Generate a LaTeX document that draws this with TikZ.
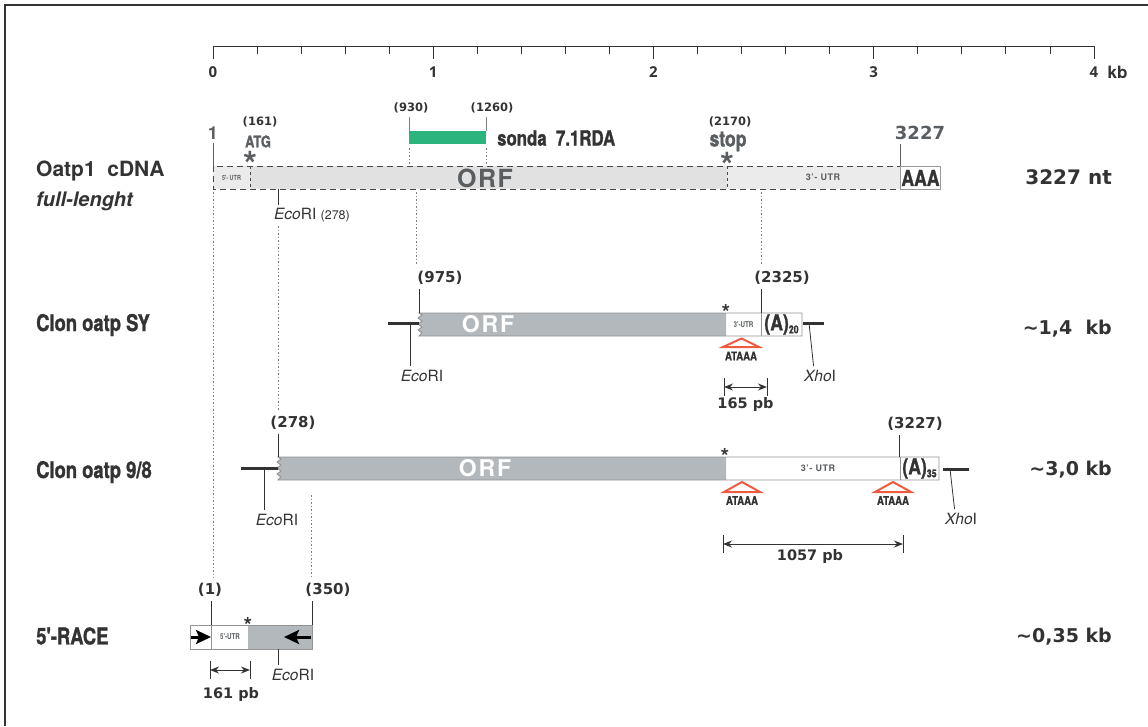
\documentclass[tikz,border=0pt]{standalone}
\usepackage{fontspec}
\setmainfont{TeX Gyre Heros}
\newfontfamily\condfont{TeX Gyre Heros}[FakeStretch=0.78]
\newfontfamily\rowfont{TeX Gyre Heros}[FakeStretch=0.8, BoldFeatures={FakeBold=1.2}]
\newfontfamily\widefont{DejaVu Sans}
\newfontfamily\axisfont{Open Sans}
\usepackage{tikz}
\usetikzlibrary{arrows.meta,positioning,calc}
\definecolor{inkgray}{HTML}{333333}
\definecolor{labgray}{HTML}{5A5E61}
\definecolor{orfgray}{HTML}{B3B8BC}
\definecolor{cdnagray}{HTML}{E1E1E1}
\definecolor{utrgray}{HTML}{EBEBEB}
\definecolor{probegreen}{HTML}{2BB47C}
\definecolor{polyared}{HTML}{EE5B3E}
\newcommand{\fsz}[1]{\fontsize{#1}{#1}\selectfont}

\begin{document}
\begin{tikzpicture}[
	x=1pt, y=-1pt,
	every node/.style={inner sep=0pt, text=inkgray},
	rowname/.style={anchor=west, font=\rowfont\bfseries\fsz{23}},
	sizelbl/.style={anchor=east, font=\widefont\bfseries\fsz{19}},
	poslbl/.style={font=\widefont\bfseries\fsz{15}},
	smallpos/.style={font=\widefont\bfseries\fsz{11.5}},
	toplbl/.style={font=\rowfont\bfseries\fsz{16}, text=labgray},
	ticklbl/.style={font=\axisfont\bfseries\fsz{15}},
	sitelbl/.style={font=\fsz{15.5}},
	utrlbl/.style={font=\condfont\bfseries\fsz{8}, text=labgray},
	motif/.style={font=\rowfont\bfseries\fsz{12}},
	bigstar/.style={anchor=north, font=\bfseries\fsz{36}, text=labgray},
	smallstar/.style={anchor=north, font=\bfseries\fsz{22}},
	pinline/.style={draw=inkgray, line width=.8pt},
	stub/.style={draw=inkgray, line width=3pt},
	guide/.style={draw=gray, line width=.8pt, dash pattern=on 1.5pt off 2pt},
	barline/.style={draw=gray!85, line width=.9pt},
	polya/.style={draw=polyared, line width=2pt},
	dimarrow/.style={draw=inkgray, line width=1pt, {Stealth[length=9pt,width=7pt]}-{Stealth[length=9pt,width=7pt]}},
	primer/.style={draw=black, line width=3pt, -{Stealth[length=15pt,width=14pt,inset=3pt]}},
	]
	
	\useasboundingbox (0,0) rectangle (1148,726);
	\draw[inkgray, line width=2.5pt] (5,726) -- (5,5) -- (1148,5);
	
	%------------------------------
	% scale in kb
	%------------------------------
	\coordinate (k0) at (213,46);
	\coordinate (k4) at (1094,46);
	\draw[inkgray, line width=.9pt] (k0) -- (k4);
	\foreach \t in {1,...,19}{
		\draw[inkgray, line width=.9pt] ($(k0)!\t/20!(k4)$) -- ++(0,8);
	}
	\foreach \k in {0,...,4}{
		\draw[inkgray, line width=.9pt] ($(k0)!\k/4!(k4)$) -- ++(0,13);
		\node[ticklbl] (kb\k) at ($(k0)!\k/4!(k4)+(0,26)$) {\k};
	}
	\node[ticklbl, font=\bfseries\fsz{17}, right=9pt of kb4] (kbunit) {kb};
	
	%------------------------------
	% Oatp1 cDNA full-lenght
	%------------------------------
	\node[anchor=west, font=\bfseries\fsz{21}] (cdna) at (36,171) {Oatp1\ \ cDNA};
	\node[anchor=west, font=\bfseries\itshape\fsz{20}] (full) at (36,201) {full-lenght};
	
	\fill[utrgray] (213,166) rectangle (900,189);
	\fill[cdnagray] (250,166) rectangle (727,189);
	\draw[inkgray!90, line width=.9pt, dash pattern=on 6pt off 4pt] (213,166) rectangle (900,189);
	\draw[inkgray!90, line width=.8pt, dash pattern=on 3pt off 3pt] (250,166) -- (250,189) (727,166) -- (727,189);
	\node[draw=gray!80, line width=.9pt, minimum width=40pt, minimum height=23pt, anchor=north west, font=\rowfont\bfseries\fsz{22}] (aaa) at (900,166) {AAA};
	
	\node[utrlbl, font=\condfont\bfseries\fsz{7}] (utr5) at (231.5,177.5) {5'- UTR};
	\node[font=\bfseries\fsz{25}\addfontfeature{LetterSpace=6}, text=labgray] (orf0) at (485,178) {ORF};
	\node[utrlbl, font=\bfseries\fsz{9}\addfontfeature{LetterSpace=6}] (utr3) at (823,177.5) {3'- UTR};
	\node[sizelbl, font=\widefont\bfseries\fsz{20}] (nt) at (1112,177) {3227 nt};
	
	% marks above the cDNA
	\coordinate (c1) at (213,166);
	\coordinate (c3227) at (900,166);
	\node[toplbl, font=\bfseries\fsz{18}] (n1) at (213,133.5) {1};
	\node[smallpos] (n161) at (260,122) {(161)};
	\node[toplbl] (atg) at (258,141.5) {ATG};
	\node[bigstar] (atgstar) at (250,151) {*};
	\node[smallpos] (n2170) at (730,122) {(2170)};
	\node[toplbl, font=\rowfont\bfseries\fsz{22}] (stop) at (728,141.5) {stop};
	\node[bigstar] (stopstar) at (727,152) {*};
	\node[toplbl, font=\widefont\bfseries\fsz{18}] (n3227) at (920,133) {3227};
	\draw[pinline, draw=labgray, shorten >=3pt] (c1) -- (c1 |- n1.south);
	\draw[pinline, draw=labgray, shorten >=4pt] (c3227) -- (c3227 |- n3227.south);
	
	% probe
	\coordinate (p930) at (409,131);
	\coordinate (p1260) at (486,131);
	\fill[probegreen] (p930) rectangle (486,144);
	\node[smallpos] (n930) at (411,108) {(930)};
	\node[smallpos] (n1260) at (492,108) {(1260)};
	\draw[pinline, draw=gray, shorten >=4pt] (p930) -- (p930 |- n930.south);
	\draw[pinline, draw=gray, shorten >=4pt] (p1260) -- (p1260 |- n1260.south);
	\node[anchor=west, font=\rowfont\bfseries\fsz{21}] (sonda) at (497,138) {sonda\ \ 7.1RDA};
	\draw[guide] (409,148) -- (409,164) (486,148) -- (486,164);
	
	% EcoRI site
	\coordinate (eco0) at (278,189);
	\node[sitelbl] (eco0lbl) at (312,215) {\textit{Eco}RI {\fsz{12.5}(278)}};
	\draw[pinline, shorten >=3pt] (eco0) -- (eco0 |- eco0lbl.north);
	
	%------------------------------
	% Clon oatp SY
	%------------------------------
	\node[rowname] (sy) at (36,325) {Clon oatp SY};
	\fill[white] (726,313) rectangle (802,336);
	\fill[orfgray] (419,313) -- (726,313) -- (726,336) -- (419,336) -- ++(3,-3) -- ++(-4,-3) -- ++(4,-3) -- ++(-4,-3) -- ++(4,-3) -- ++(-4,-3) -- ++(4,-3) -- cycle;
	\draw[barline] (419,313) -- (802,313) -- (802,336) -- (419,336) -- ++(3,-3) -- ++(-4,-3) -- ++(4,-3) -- ++(-4,-3) -- ++(4,-3) -- ++(-4,-3) -- ++(4,-3) -- cycle;
	\draw[barline] (761,313) -- (761,336);
	\node[font=\bfseries\fsz{23}\addfontfeature{LetterSpace=8}, text=white] (orf1) at (488,324.5) {ORF};
	\node[utrlbl] (utr1) at (743.5,324.5) {3'-UTR};
	\node[font=\rowfont\bfseries\fsz{22}] (a20) at (781.5,324.5) {(A)\raisebox{-3pt}{\fsz{11}20}};
	\node[sizelbl] (s14) at (1112,329) {\textasciitilde1,4\ \ kb};
	
	\coordinate (sy975) at (419,313);
	\coordinate (sy2325) at (761,313);
	\node[poslbl] (n975) at (440,278) {(975)};
	\node[poslbl] (n2325) at (782,278) {(2325)};
	\draw[pinline, shorten >=4pt] (sy975) -- (sy975 |- n975.south);
	\draw[pinline, shorten >=4pt] (sy2325) -- (sy2325 |- n2325.south);
	\node[smallstar] (systar) at (726,304) {*};
	
	% vector ends
	\coordinate (syeco) at (410,323);
	\coordinate (syxho) at (809,323);
	\draw[stub] (388,323) -- (419,323);
	\draw[stub] (803,323) -- (824,323);
	\node[sitelbl] (syecolbl) at (422,376) {\textit{Eco}RI};
	\node[sitelbl] (syxholbl) at (820,376) {\textit{Xho}I};
	\draw[pinline, shorten >=4pt] (syeco) -- (syeco |- syecolbl.north);
	\draw[pinline, shorten >=4pt] (syxho) -- ([xshift=-6pt]syxholbl.north);
	
	% polyadenylation signal
	\draw[polya] (723,347) -- (741.5,338.5) -- (759,347) -- cycle;
	\node[motif] (sypa) at (741,356) {ATAAA};
	\coordinate (d165a) at (724,387);
	\coordinate (d165b) at (767,387);
	\draw[pinline] (724,378) -- (724,396) (767,378) -- (767,396);
	\draw[dimarrow] (d165a) -- (d165b);
	\node[poslbl, font=\widefont\bfseries\fsz{14.5}] (d165) at (745.5,404) {165 pb};
	
	%------------------------------
	% Clon oatp 9/8
	%------------------------------
	\node[rowname] (c98) at (36,472) {Clon oatp 9/8};
	\fill[white] (726,457) rectangle (939,480);
	\fill[orfgray] (278,457) -- (726,457) -- (726,480) -- (278,480) -- ++(3,-3) -- ++(-4,-3) -- ++(4,-3) -- ++(-4,-3) -- ++(4,-3) -- ++(-4,-3) -- ++(4,-3) -- cycle;
	\draw[barline] (278,457) -- (939,457) -- (939,480) -- (278,480) -- ++(3,-3) -- ++(-4,-3) -- ++(4,-3) -- ++(-4,-3) -- ++(4,-3) -- ++(-4,-3) -- ++(4,-3) -- cycle;
	\draw[barline] (900,457) -- (900,480);
	\node[font=\bfseries\fsz{23}\addfontfeature{LetterSpace=8}, text=white] (orf2) at (485,468.5) {ORF};
	\node[utrlbl, font=\bfseries\fsz{9}\addfontfeature{LetterSpace=6}] (utr2) at (818,468.5) {3'- UTR};
	\node[font=\rowfont\bfseries\fsz{22}] (a35) at (919.5,468.5) {(A)\raisebox{-3pt}{\fsz{11}35}};
	\node[sizelbl] (s30) at (1112,470) {\textasciitilde3,0 kb};
	
	\coordinate (c278) at (278,457);
	\coordinate (c3227b) at (899,457);
	\node[poslbl] (n278) at (293,423) {(278)};
	\node[poslbl] (n3227b) at (915,424) {(3227)};
	\draw[pinline, shorten >=4pt] (c278) -- (c278 |- n278.south);
	\draw[pinline, shorten >=4pt] (c3227b) -- (c3227b |- n3227b.south);
	\node[smallstar] (c98star) at (725,448) {*};
	
	% vector ends
	\coordinate (c98eco) at (264,468);
	\coordinate (c98xho) at (950,469);
	\draw[stub] (241,468) -- (278,468);
	\draw[stub] (943,469) -- (969,469);
	\node[sitelbl] (c98ecolbl) at (277,520) {\textit{Eco}RI};
	\node[sitelbl] (c98xholbl) at (961,519) {\textit{Xho}I};
	\draw[pinline, shorten >=4pt] (c98eco) -- (c98eco |- c98ecolbl.north);
	\draw[pinline, shorten >=4pt] (c98xho) -- ([xshift=-6pt]c98xholbl.north);
	
	% polyadenylation signals
	\foreach \px/\nm in {742/pa1, 893/pa2}{
		\draw[polya] (\px-18,492) -- (\px,482) -- (\px+18,492) -- cycle;
		\node[motif] (\nm) at (\px,500.5) {ATAAA};
	}
	\coordinate (d1057a) at (723,544);
	\coordinate (d1057b) at (903,544);
	\draw[pinline] (723,535) -- (723,553) (903,535) -- (903,553);
	\draw[dimarrow] (d1057a) -- (d1057b);
	\node[poslbl, font=\widefont\bfseries\fsz{14.5}] (d1057) at (810,556) {1057 pb};
	
	%------------------------------
	% 5'-RACE
	%------------------------------
	\node[rowname] (race) at (36,636) {5'-RACE};
	\fill[orfgray] (248,625) rectangle (312,649);
	\draw[barline] (190,625) rectangle (312,649);
	\draw[barline] (211,625) -- (211,649);
	\node[utrlbl] (utr4) at (230,637) {5'-UTR};
	\coordinate (fw0) at (191,637);
	\coordinate (fw1) at (211,637);
	\coordinate (rv0) at (311,637);
	\coordinate (rv1) at (284,637);
	\draw[primer] (fw0) -- (fw1);
	\draw[primer] (rv0) -- (rv1);
	\node[sizelbl] (s035) at (1112,637) {\textasciitilde0,35 kb};
	
	\coordinate (r1) at (211,625);
	\coordinate (r350) at (312,625);
	\node[poslbl] (n1r) at (210,590) {(1)};
	\node[poslbl] (n350) at (328,590) {(350)};
	\draw[pinline, shorten >=4pt] (r1) -- (r1 |- n1r.south);
	\draw[pinline, shorten >=4pt] (r350) -- (r350 |- n350.south);
	\node[smallstar] (racestar) at (248,617) {*};
	
	\coordinate (raceeco) at (278,649);
	\node[sitelbl] (raceecolbl) at (293,675) {\textit{Eco}RI};
	\draw[pinline, shorten >=4pt] (raceeco) -- (raceeco |- raceecolbl.north);
	
	\coordinate (d161a) at (210,670);
	\coordinate (d161b) at (250,670);
	\draw[pinline] (210,661) -- (210,679) (250,661) -- (250,679);
	\draw[dimarrow] (d161a) -- (d161b);
	\node[poslbl, font=\widefont\bfseries\fsz{14.5}] (d161) at (231,694) {161 pb};
	
	%------------------------------
	% guides between the maps
	%------------------------------
	\coordinate (g1) at (213,192);
	\coordinate (g278) at (278,226);
	\coordinate (g975) at (416,192);
	\coordinate (g2325) at (761,192);
	\coordinate (g350) at (311,495);
	\draw[guide, shorten >=6pt] (g1) -- (g1 |- n1r.north);
	\draw[guide, shorten >=6pt] (g278) -- (g278 |- n278.north);
	\draw[guide, shorten >=6pt] (g975) -- (g975 |- n975.north);
	\draw[guide, shorten >=6pt] (g2325) -- (g2325 |- n2325.north);
	\draw[guide, shorten >=6pt] (g350) -- (g350 |- n350.north);
\end{tikzpicture}
\end{document}
